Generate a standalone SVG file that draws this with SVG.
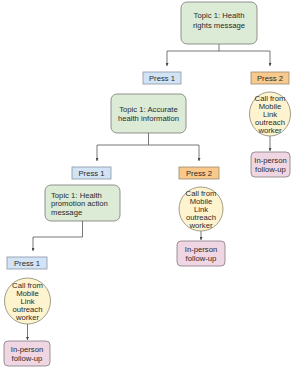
<svg xmlns="http://www.w3.org/2000/svg" width="300" height="370" viewBox="0 0 300 370">
<defs>
<marker id="arr" viewBox="0 0 4 4" refX="4" refY="2" markerWidth="3" markerHeight="3" markerUnits="userSpaceOnUse" orient="auto">
<path d="M0,0 L4,2 L0,4 z" fill="#444"/>
</marker>
<style>
text{font-family:"Liberation Sans",Arial,sans-serif;font-size:7.7px;fill:#2a2a2a;}
.c{text-anchor:middle;}
.topic{fill:#dcebd5;stroke:#777;stroke-width:0.8;}
.p1{fill:#d2e3f5;stroke:#8a96a3;stroke-width:0.8;}
.p2{fill:#f9c98c;stroke:#9a8a70;stroke-width:0.8;}
.call{fill:#fdf4cf;stroke:#8a8570;stroke-width:0.8;}
.ip{fill:#efd6e2;stroke:#857a80;stroke-width:0.8;}
.ln{fill:none;stroke:#666;stroke-width:0.9;marker-end:url(#arr);}
</style>
</defs>
<g id="connectors">
<path class="ln" d="M219,44 V51 H167 V66"/>
<path class="ln" d="M219,51 H270 V66"/>
<path class="ln" d="M148.5,133 V145 H97 V161"/>
<path class="ln" d="M148.5,145 H199 V161"/>
<path class="ln" d="M82.5,221 V237 H33 V251"/>
<path class="ln" d="M270,136 V151"/>
<path class="ln" d="M201,231 V240"/>
<path class="ln" d="M27.5,324 V340"/>
</g>
<g id="topic_rights">
<rect class="topic" x="181" y="2" width="76" height="42" rx="6"/>
<text class="c" x="219" y="18">Topic 1: Health</text>
<text class="c" x="219" y="28">rights message</text>
</g>
<g id="press1_a">
<rect class="p1" x="143" y="72" width="38" height="12"/>
<text class="c" x="162" y="80.8">Press 1</text>
</g>
<g id="press2_a">
<rect class="p2" x="251" y="72" width="38" height="12"/>
<text class="c" x="270" y="80.8">Press 2</text>
</g>
<g id="call_a">
<ellipse class="call" cx="270" cy="114" rx="20.5" ry="22"/>
<text class="c" x="270" y="100.7">Call from</text>
<text class="c" x="270" y="108.7">Mobile</text>
<text class="c" x="270" y="116.7">Link</text>
<text class="c" x="270" y="124.7">outreach</text>
<text class="c" x="270" y="132.7">worker</text>
</g>
<g id="inperson_a">
<rect class="ip" x="251" y="152" width="39" height="25" rx="4"/>
<text class="c" x="270.5" y="163.3">In-person</text>
<text class="c" x="270.5" y="171.8">follow-up</text>
</g>
<g id="topic_accurate">
<rect class="topic" x="111" y="94" width="75" height="39" rx="6"/>
<text class="c" x="148.5" y="111.7">Topic 1: Accurate</text>
<text class="c" x="148.5" y="120.7">health information</text>
</g>
<g id="press1_b">
<rect class="p1" x="72" y="167" width="39" height="12"/>
<text class="c" x="91.5" y="175.8">Press 1</text>
</g>
<g id="press2_b">
<rect class="p2" x="179" y="167" width="40" height="12"/>
<text class="c" x="199" y="175.8">Press 2</text>
</g>
<g id="call_b">
<circle class="call" cx="201" cy="209" r="22"/>
<text class="c" x="201" y="195.7">Call from</text>
<text class="c" x="201" y="203.7">Mobile</text>
<text class="c" x="201" y="211.7">Link</text>
<text class="c" x="201" y="219.7">outreach</text>
<text class="c" x="201" y="227.7">worker</text>
</g>
<g id="inperson_b">
<rect class="ip" x="177" y="241" width="48" height="25" rx="4"/>
<text class="c" x="201" y="252.3">In-person</text>
<text class="c" x="201" y="260.8">follow-up</text>
</g>
<g id="topic_promotion">
<rect class="topic" x="45" y="185" width="75" height="36" rx="6"/>
<text x="51" y="197.5">Topic 1: Health</text>
<text x="51" y="206">promotion action</text>
<text x="51" y="214.5">message</text>
</g>
<g id="press1_c">
<rect class="p1" x="7" y="257" width="40" height="12"/>
<text class="c" x="27" y="265.8">Press 1</text>
</g>
<g id="call_c">
<circle class="call" cx="27.5" cy="301" r="23"/>
<text class="c" x="27.5" y="287.7">Call from</text>
<text class="c" x="27.5" y="295.7">Mobile</text>
<text class="c" x="27.5" y="303.7">Link</text>
<text class="c" x="27.5" y="311.7">outreach</text>
<text class="c" x="27.5" y="319.7">worker</text>
</g>
<g id="inperson_c">
<rect class="ip" x="4" y="341" width="46" height="25" rx="4"/>
<text class="c" x="27" y="352.3">In-person</text>
<text class="c" x="27" y="360.8">follow-up</text>
</g>
</svg>
